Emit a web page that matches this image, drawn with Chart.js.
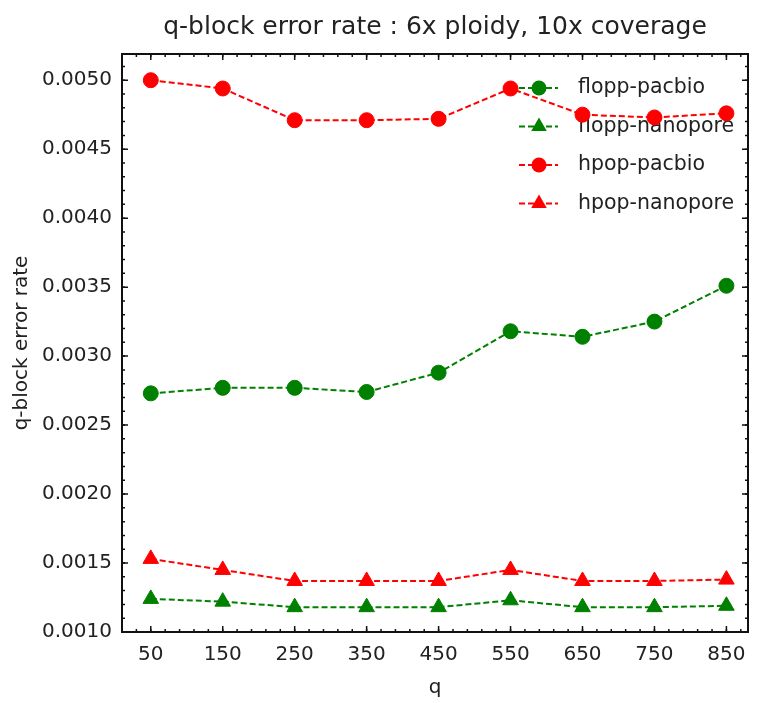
<!DOCTYPE html>
<html>
<head>
<meta charset="utf-8">
<script src="https://cdn.jsdelivr.net/npm/chart.js@4/dist/chart.umd.min.js"></script>
<style>
  html, body { margin: 0; padding: 0; background: #fff; }
  #wrap { width: 758px; height: 703px; }
</style>
</head>
<body>
<div id="wrap"><canvas id="chart"></canvas></div>
<script>
// q-block error rate, 6x ploidy, 10x coverage
const qValues = [50, 150, 250, 350, 450, 550, 650, 750, 850];
const floppPacbio    = [0.00273, 0.00277, 0.00277, 0.00274, 0.00288, 0.00318, 0.00314, 0.00325, 0.00351];
const floppNanopore  = [0.00124, 0.00122, 0.00118, 0.00118, 0.00118, 0.00123, 0.00118, 0.00118, 0.00119];
const hpopPacbio     = [0.00500, 0.00494, 0.00471, 0.00471, 0.00472, 0.00494, 0.00475, 0.00473, 0.00476];
const hpopNanopore   = [0.00153, 0.00145, 0.00137, 0.00137, 0.00137, 0.00145, 0.00137, 0.00137, 0.00138];
const yTicks = [0.0010, 0.0015, 0.0020, 0.0025, 0.0030, 0.0035, 0.0040, 0.0045, 0.0050];

const GREEN = "#008000";
const RED = "#ff0000";
const TEXT = "#222";
const FONT = "'DejaVu Sans', sans-serif";

function series(label, values, color, style) {
    return {
        label: label,
        data: qValues.map((q, i) => ({ x: q, y: values[i] })),
        borderColor: color,
        backgroundColor: color,
        borderWidth: 2,
        borderDash: [6, 3],
        pointStyle: style,
        pointRadius: style === "triangle" ? 9 : 7.5,
        pointHoverRadius: style === "triangle" ? 9 : 7.5,
        pointBorderWidth: 1,
        fill: false,
        tension: 0
    };
}

// frame + inward ticks on all four sides, matplotlib style
const frameTicks = {
    id: "frameTicks",
    afterDatasetsDraw(chart) {
        const { ctx, chartArea: a, scales: { x, y } } = chart;
        ctx.save();
        ctx.strokeStyle = "#111";
        ctx.lineWidth = 1.5;
        const tick = (px, horiz, len) => {
            ctx.beginPath();
            if (horiz) {
                ctx.moveTo(px, a.bottom); ctx.lineTo(px, a.bottom - len);
                ctx.moveTo(px, a.top); ctx.lineTo(px, a.top + len);
            } else {
                ctx.moveTo(a.left, px); ctx.lineTo(a.left + len, px);
                ctx.moveTo(a.right, px); ctx.lineTo(a.right - len, px);
            }
            ctx.stroke();
        };
        for (let v = 10; v <= 880; v += 20) tick(x.getPixelForValue(v), true, 3);
        qValues.forEach(v => tick(x.getPixelForValue(v), true, 6));
        for (let k = 10; k <= 51; k++) tick(y.getPixelForValue(k / 10000), false, 3);
        yTicks.forEach(v => tick(y.getPixelForValue(v), false, 6));
        ctx.lineWidth = 2;
        ctx.strokeRect(a.left, a.top, a.right - a.left, a.bottom - a.top);
        ctx.restore();
    }
};

// legend inside the upper-right corner, no frame
const innerLegend = {
    id: "innerLegend",
    beforeDatasetsDraw(chart) {
        const { ctx, chartArea: a } = chart;
        ctx.save();
        ctx.font = "20.5px " + FONT;
        ctx.textBaseline = "middle";
        chart.data.datasets.forEach((ds, i) => {
            const yy = a.top + 34 + i * 38.5;
            const x0 = a.right - 229, x1 = a.right - 190, xm = a.right - 209;
            ctx.strokeStyle = ds.borderColor;
            ctx.lineWidth = 2;
            ctx.setLineDash([6, 3]);
            ctx.beginPath();
            ctx.moveTo(x0, yy); ctx.lineTo(x1, yy);
            ctx.stroke();
            ctx.setLineDash([]);
            ctx.fillStyle = ds.backgroundColor;
            ctx.beginPath();
            if (ds.pointStyle === "triangle") {
                const r = ds.pointRadius;
                ctx.moveTo(xm, yy - r);
                ctx.lineTo(xm + 0.866 * r, yy + 0.5 * r);
                ctx.lineTo(xm - 0.866 * r, yy + 0.5 * r);
                ctx.closePath();
            } else {
                ctx.arc(xm, yy, ds.pointRadius, 0, Math.PI * 2);
            }
            ctx.fill();
            ctx.fillStyle = TEXT;
            ctx.fillText(ds.label, a.right - 170, yy);
        });
        ctx.restore();
    }
};

new Chart(document.getElementById("chart"), {
    type: "line",
    data: {
        datasets: [
            series("flopp-pacbio", floppPacbio, GREEN, "circle"),
            series("flopp-nanopore", floppNanopore, GREEN, "triangle"),
            series("hpop-pacbio", hpopPacbio, RED, "circle"),
            series("hpop-nanopore", hpopNanopore, RED, "triangle")
        ]
    },
    options: {
        responsive: true,
        maintainAspectRatio: false,
        animation: false,
        layout: { padding: { top: 0, right: 6, left: 0, bottom: 0 } },
        plugins: {
            legend: { display: false },
            tooltip: { enabled: false },
            title: {
                display: true,
                fullSize: false,
                text: "q-block error rate : 6x ploidy, 10x coverage",
                color: TEXT,
                font: { family: FONT, size: 25, weight: "normal" },
                padding: { top: 12, bottom: 12 }
            }
        },
        scales: {
            x: {
                type: "linear",
                min: 10,
                max: 880,
                afterBuildTicks: s => { s.ticks = qValues.map(v => ({ value: v })); },
                afterFit: s => { s.height = 71; s.paddingLeft = 0; s.paddingRight = 0; },
                grid: { display: false, drawTicks: false },
                border: { display: false },
                ticks: {
                    autoSkip: false,
                    maxRotation: 0,
                    padding: 11,
                    color: TEXT,
                    font: { family: FONT, size: 20 },
                    callback: v => String(v)
                },
                title: {
                    display: true,
                    text: "q",
                    color: TEXT,
                    font: { family: FONT, size: 20 },
                    padding: { top: 0, bottom: 3 }
                }
            },
            y: {
                min: 0.0010,
                max: 0.00519,
                afterBuildTicks: s => { s.ticks = yTicks.map(v => ({ value: v })); },
                afterFit: s => { s.width = 122; },
                grid: { display: false, drawTicks: false },
                border: { display: false },
                ticks: {
                    autoSkip: false,
                    padding: 10,
                    color: TEXT,
                    font: { family: FONT, size: 20 },
                    callback: v => v.toFixed(4)
                },
                title: {
                    display: true,
                    text: "q-block error rate",
                    color: TEXT,
                    font: { family: FONT, size: 20 },
                    padding: { top: 10, bottom: 0 }
                }
            }
        }
    },
    plugins: [innerLegend, frameTicks]
});
</script>
</body>
</html>
